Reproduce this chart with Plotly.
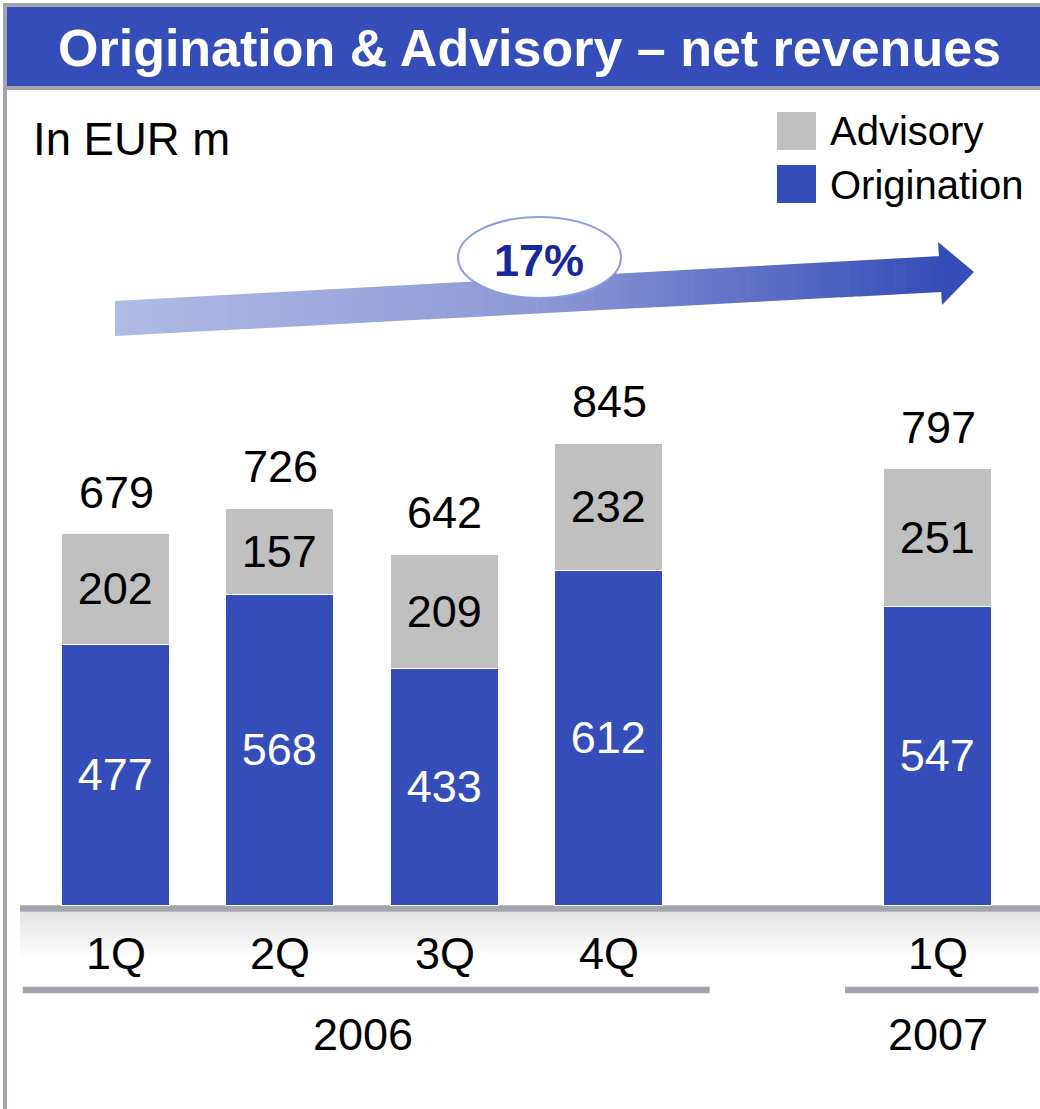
import plotly.graph_objects as go

# ---------------- data ----------------
quarters = ["1Q", "2Q", "3Q", "4Q", "1Q"]
years = ["2006", "2006", "2006", "2006", "2007"]
origination = [477, 568, 433, 612, 547]
advisory = [202, 157, 209, 232, 251]
totals = [679, 726, 642, 845, 797]
growth_label = "17%"
title_text = "Origination & Advisory – net revenues"
unit_text = "In EUR m"

# ---------------- layout helpers ----------------
W, H = 1040, 1109
FONT = "Liberation Sans, Arial, Helvetica, sans-serif"
BLUE = "#354DB8"
GREY = "#C0C0C0"
FRAME = "#A4A4AC"


def px(x):
    return x / W


def py(y):
    return 1 - y / H


# slot positions: one empty slot between years
pos = []
slot = 0
for i, yr in enumerate(years):
    if i > 0 and yr != years[i - 1]:
        slot += 1
    pos.append(slot)
    slot += 1

SLOT_PX = 164.45
X0_PX = 116.0
BASE_PX = 905.5
SCALE = 0.5465  # px per EUR m
x_range = [-X0_PX / SLOT_PX, (W - X0_PX) / SLOT_PX]
y_range = [-(H - BASE_PX) / SCALE, BASE_PX / SCALE]
bar_w = 108 / SLOT_PX

fig = go.Figure()
fig.add_trace(go.Bar(
    x=pos, y=origination, width=bar_w, name="Origination",
    marker=dict(color=BLUE, line=dict(color="white", width=1.5)),
    text=origination, texttemplate="%{text}", textposition="inside",
    insidetextanchor="middle", textangle=0,
    textfont=dict(family=FONT, size=45, color="white"), showlegend=False,
))
fig.add_trace(go.Bar(
    x=pos, y=advisory, width=bar_w, name="Advisory",
    marker=dict(color=GREY, line=dict(color="white", width=1.5)),
    text=advisory, texttemplate="%{text}", textposition="inside",
    insidetextanchor="middle", textangle=0,
    textfont=dict(family=FONT, size=45, color="black"), showlegend=False,
))

shapes = []


def rect(x0, y0, x1, y1, color, layer="below"):
    shapes.append(dict(type="rect", xref="paper", yref="paper",
                       x0=px(x0), x1=px(x1), y0=py(y1), y1=py(y0),
                       fillcolor=color, line=dict(width=0), layer=layer))


# frame + title bar
rect(3, 3, W, 7, FRAME)
rect(3, 3, 7, H, FRAME)
rect(7, 7, W, 86, BLUE)
rect(7, 86, W, 90, FRAME)

# axis band with soft gradient below
n_g = 16
for k in range(n_g):
    t = k / (n_g - 1)
    c = int(228 + (255 - 228) * t)
    rect(20, 911.5 + k * 3, W, 911.5 + (k + 1) * 3 + 0.5, f"rgb({c},{c},{c})")
rect(20, 905.3, W, 911.7, FRAME)

# year separator lines
year_groups = {}
for p, yr in zip(pos, years):
    year_groups.setdefault(yr, []).append(p)
for yr, ps in year_groups.items():
    shapes.append(dict(type="rect", xref="x", yref="paper",
                       x0=min(ps) - 0.567, x1=max(ps) + 0.61,
                       y0=py(993.3), y1=py(986.7),
                       fillcolor=FRAME, line=dict(width=0), layer="below"))

# growth arrow with gradient
stops = [(0.0, (175, 186, 229)), (0.5, (143, 154, 214)),
         (0.75, (100, 115, 200)), (1.0, (53, 77, 184))]


def grad(t):
    for (t0, c0), (t1, c1) in zip(stops[:-1], stops[1:]):
        if t <= t1:
            u = (t - t0) / (t1 - t0)
            return tuple(int(round(a + (b - a) * u)) for a, b in zip(c0, c1))
    return stops[-1][1]


ax0, ax1 = 115.0, 941.0
top0, top1 = 301.0, 256.0
bot0, bot1 = 336.0, 292.0
N = 90
for k in range(N):
    xa = ax0 + (ax1 - ax0) * k / N
    xb = ax0 + (ax1 - ax0) * (k + 1) / N + 0.6
    ta = top0 + (top1 - top0) * (xa - ax0) / (ax1 - ax0)
    tb = top0 + (top1 - top0) * (xb - ax0) / (ax1 - ax0)
    ba = bot0 + (bot1 - bot0) * (xa - ax0) / (ax1 - ax0)
    bb = bot0 + (bot1 - bot0) * (xb - ax0) / (ax1 - ax0)
    r, g, b = grad((k + 0.5) / N)
    path = (f"M {px(xa)},{py(ta)} L {px(xb)},{py(tb)} "
            f"L {px(xb)},{py(bb)} L {px(xa)},{py(ba)} Z")
    shapes.append(dict(type="path", xref="paper", yref="paper", path=path,
                       fillcolor=f"rgb({r},{g},{b})", line=dict(width=0),
                       layer="below"))
head = (f"M {px(938)},{py(242)} L {px(974)},{py(272)} "
        f"L {px(942)},{py(305)} Z")
shapes.append(dict(type="path", xref="paper", yref="paper", path=head,
                   fillcolor="rgb(53,77,184)", line=dict(width=0), layer="below"))

# ellipse for growth label
shapes.append(dict(type="circle", xref="paper", yref="paper",
                   x0=px(458), x1=px(621), y0=py(298), y1=py(217),
                   fillcolor="white", line=dict(color="#8C9DE2", width=2),
                   layer="below"))

# legend squares
rect(777, 112, 816, 150, GREY)
rect(777, 165, 816, 203, BLUE)

annotations = []


def txt(text, x, y, size, color="black", xanchor="center", xref="paper",
        yref="paper", yshift=0):
    annotations.append(dict(text=text, x=x, y=y, xref=xref, yref=yref,
                            xanchor=xanchor, yanchor="middle", showarrow=False,
                            yshift=yshift,
                            font=dict(family=FONT, size=size, color=color)))


txt(f"<b>{title_text}</b>", px(529), py(48), 52, "white")
txt(unit_text, px(31), py(140), 45.5, xanchor="left")
txt("Advisory", px(828), py(131), 40, xanchor="left")
txt("Origination", px(828), py(185), 40, xanchor="left")
txt(f"<b>{growth_label}</b>", px(539), py(260), 45, "#18289A")

for p, q in zip(pos, quarters):
    txt(q, p, py(953), 45, xref="x")
for yr, ps in year_groups.items():
    txt(yr, sum(ps) / len(ps), py(1034), 45, xref="x")
for p, t in zip(pos, totals):
    txt(str(t), p, t, 45, xref="x", yref="y", yshift=42)

fig.update_layout(
    width=W, height=H, autosize=False,
    margin=dict(l=0, r=0, t=0, b=0, pad=0),
    paper_bgcolor="white", plot_bgcolor="white",
    barmode="stack", bargap=0,
    xaxis=dict(range=x_range, visible=False, fixedrange=True),
    yaxis=dict(range=y_range, visible=False, fixedrange=True),
    shapes=shapes, annotations=annotations,
    showlegend=False,
    uniformtext=dict(mode=False),
)

fig.write_html(
    "out.html",
    config={"displayModeBar": False},
    post_script="document.body.style.margin='0';document.body.style.overflow='hidden';",
)
